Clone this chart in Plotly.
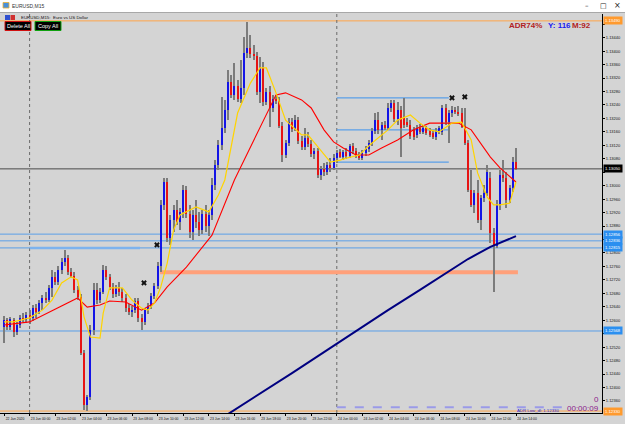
import plotly.graph_objects as go

# ---------------- data (EURUSD M15) ----------------
bar_index = list(range(161))

opens = [1.12580, 1.12601, 1.12580, 1.12601, 1.12565, 1.12586, 1.12607, 1.12601, 1.12615, 1.12607,
         1.12636, 1.12624, 1.12651, 1.12666, 1.12660, 1.12696, 1.12729, 1.12714, 1.12749, 1.12773,
         1.12785, 1.12743, 1.12731, 1.12690, 1.12669, 1.12502, 1.12348, 1.12372, 1.12571, 1.12690,
         1.12660, 1.12684, 1.12749, 1.12729, 1.12699, 1.12678, 1.12696, 1.12684, 1.12666, 1.12636,
         1.12624, 1.12630, 1.12657, 1.12607, 1.12595, 1.12630, 1.12642, 1.12672, 1.12702, 1.12761,
         1.12943, 1.13011, 1.12844, 1.12898, 1.12928, 1.12892, 1.12922, 1.12987, 1.12916, 1.12862,
         1.12913, 1.12892, 1.12868, 1.12916, 1.12880, 1.12913, 1.13002, 1.13061, 1.13121, 1.13171,
         1.13225, 1.13308, 1.13270, 1.13296, 1.13258, 1.13290, 1.13394, 1.13409, 1.13391, 1.13386,
         1.13279, 1.13350, 1.13249, 1.13279, 1.13231, 1.13258, 1.13252, 1.13177, 1.13091, 1.13127,
         1.13189, 1.13169, 1.13195, 1.13133, 1.13115, 1.13142, 1.13124, 1.13094, 1.13103, 1.13032,
         1.13050, 1.13041, 1.13061, 1.13053, 1.13082, 1.13100, 1.13085, 1.13100, 1.13088, 1.13118,
         1.13103, 1.13088, 1.13082, 1.13097, 1.13109, 1.13127, 1.13163, 1.13195, 1.13166, 1.13180,
         1.13171, 1.13231, 1.13246, 1.13198, 1.13225, 1.13201, 1.13189, 1.13180, 1.13166, 1.13151,
         1.13171, 1.13160, 1.13171, 1.13163, 1.13157, 1.13145, 1.13163, 1.13160, 1.13231, 1.13189,
         1.13216, 1.13225, 1.13219, 1.13216, 1.13174, 1.13127, 1.12987, 1.12943, 1.12978, 1.12898,
         1.12963, 1.12978, 1.13023, 1.12859, 1.12821, 1.12943, 1.13032, 1.13023, 1.12957, 1.12993, 1.13070]

highs = [1.12613, 1.12607, 1.12610, 1.12607, 1.12595, 1.12615, 1.12621, 1.12624, 1.12630, 1.12645,
         1.12648, 1.12660, 1.12675, 1.12684, 1.12705, 1.12749, 1.12743, 1.12761, 1.12785, 1.12809,
         1.12794, 1.12755, 1.12743, 1.12702, 1.12678, 1.12511, 1.12378, 1.12586, 1.12711, 1.12711,
         1.12696, 1.12764, 1.12761, 1.12737, 1.12711, 1.12705, 1.12714, 1.12696, 1.12678, 1.12648,
         1.12642, 1.12666, 1.12666, 1.12619, 1.12636, 1.12651, 1.12681, 1.12711, 1.12773, 1.12957,
         1.13023, 1.13023, 1.12913, 1.12943, 1.12957, 1.12934, 1.13002, 1.12999, 1.12943, 1.12928,
         1.12957, 1.12922, 1.12928, 1.12943, 1.12928, 1.13023, 1.13076, 1.13136, 1.13264, 1.13255,
         1.13344, 1.13329, 1.13365, 1.13314, 1.13374, 1.13442, 1.13487, 1.13448, 1.13418, 1.13397,
         1.13383, 1.13368, 1.13290, 1.13296, 1.13270, 1.13270, 1.13264, 1.13189, 1.13136, 1.13201,
         1.13201, 1.13210, 1.13204, 1.13148, 1.13171, 1.13160, 1.13136, 1.13112, 1.13112, 1.13058,
         1.13067, 1.13070, 1.13082, 1.13094, 1.13106, 1.13109, 1.13106, 1.13112, 1.13124, 1.13127,
         1.13112, 1.13100, 1.13106, 1.13118, 1.13136, 1.13171, 1.13216, 1.13219, 1.13189, 1.13192,
         1.13246, 1.13255, 1.13255, 1.13249, 1.13237, 1.13261, 1.13201, 1.13195, 1.13174, 1.13180,
         1.13183, 1.13180, 1.13177, 1.13171, 1.13166, 1.13171, 1.13177, 1.13240, 1.13243, 1.13225,
         1.13237, 1.13234, 1.13237, 1.13231, 1.13231, 1.13136, 1.13047, 1.12987, 1.13017, 1.12972,
         1.13002, 1.13061, 1.13041, 1.12874, 1.12957, 1.13047, 1.13076, 1.13041, 1.13002, 1.13085, 1.13112]

lows = [1.12532, 1.12571, 1.12571, 1.12550, 1.12556, 1.12577, 1.12595, 1.12592, 1.12589, 1.12598,
        1.12607, 1.12619, 1.12630, 1.12651, 1.12654, 1.12669, 1.12705, 1.12705, 1.12737, 1.12761,
        1.12734, 1.12726, 1.12681, 1.12660, 1.12497, 1.12333, 1.12330, 1.12363, 1.12556, 1.12648,
        1.12651, 1.12678, 1.12720, 1.12690, 1.12666, 1.12669, 1.12672, 1.12654, 1.12624, 1.12615,
        1.12610, 1.12621, 1.12595, 1.12571, 1.12586, 1.12619, 1.12633, 1.12663, 1.12693, 1.12743,
        1.12928, 1.12833, 1.12824, 1.12862, 1.12883, 1.12868, 1.12904, 1.12904, 1.12844, 1.12839,
        1.12874, 1.12850, 1.12856, 1.12862, 1.12850, 1.12898, 1.12987, 1.13047, 1.13106, 1.13157,
        1.13195, 1.13261, 1.13255, 1.13249, 1.13246, 1.13270, 1.13380, 1.13380, 1.13374, 1.13270,
        1.13246, 1.13237, 1.13240, 1.13174, 1.13219, 1.13243, 1.13171, 1.13070, 1.13082, 1.13118,
        1.13160, 1.13163, 1.13124, 1.13106, 1.13106, 1.13115, 1.13085, 1.13079, 1.13023, 1.13017,
        1.13029, 1.13032, 1.13041, 1.13047, 1.13067, 1.13082, 1.13076, 1.13079, 1.13082, 1.13094,
        1.13082, 1.13076, 1.13076, 1.13088, 1.13100, 1.13118, 1.13154, 1.13154, 1.13136, 1.13166,
        1.13166, 1.13219, 1.13189, 1.13180, 1.13085, 1.13171, 1.13174, 1.13139, 1.13136, 1.13142,
        1.13154, 1.13154, 1.13151, 1.13145, 1.13139, 1.13136, 1.13154, 1.13151, 1.13180, 1.13127,
        1.13204, 1.13213, 1.13207, 1.13171, 1.13121, 1.12981, 1.12937, 1.12919, 1.12889, 1.12868,
        1.12951, 1.12969, 1.12830, 1.12684, 1.12815, 1.12928, 1.13011, 1.12934, 1.12948, 1.12981, 1.13047]

closes = [1.12601, 1.12580, 1.12604, 1.12565, 1.12586, 1.12607, 1.12601, 1.12615, 1.12607, 1.12636,
          1.12624, 1.12651, 1.12666, 1.12660, 1.12696, 1.12729, 1.12714, 1.12749, 1.12773, 1.12785,
          1.12743, 1.12731, 1.12690, 1.12669, 1.12502, 1.12348, 1.12372, 1.12571, 1.12690, 1.12660,
          1.12684, 1.12749, 1.12729, 1.12699, 1.12678, 1.12696, 1.12684, 1.12666, 1.12636, 1.12624,
          1.12630, 1.12657, 1.12607, 1.12595, 1.12630, 1.12642, 1.12672, 1.12702, 1.12761, 1.12943,
          1.13011, 1.12844, 1.12898, 1.12928, 1.12892, 1.12922, 1.12987, 1.12916, 1.12862, 1.12913,
          1.12892, 1.12868, 1.12916, 1.12880, 1.12913, 1.13002, 1.13061, 1.13121, 1.13171, 1.13225,
          1.13308, 1.13270, 1.13296, 1.13258, 1.13290, 1.13394, 1.13409, 1.13391, 1.13386, 1.13279,
          1.13350, 1.13249, 1.13279, 1.13231, 1.13258, 1.13252, 1.13177, 1.13091, 1.13127, 1.13189,
          1.13169, 1.13195, 1.13133, 1.13115, 1.13142, 1.13124, 1.13094, 1.13103, 1.13032, 1.13050,
          1.13041, 1.13061, 1.13053, 1.13082, 1.13097, 1.13085, 1.13100, 1.13088, 1.13118, 1.13103,
          1.13088, 1.13082, 1.13097, 1.13109, 1.13127, 1.13163, 1.13195, 1.13166, 1.13180, 1.13171,
          1.13231, 1.13246, 1.13198, 1.13225, 1.13171, 1.13180, 1.13180, 1.13148, 1.13145, 1.13171,
          1.13160, 1.13171, 1.13157, 1.13151, 1.13145, 1.13163, 1.13171, 1.13231, 1.13189, 1.13216,
          1.13225, 1.13219, 1.13216, 1.13174, 1.13127, 1.12987, 1.12943, 1.12978, 1.12898, 1.12963,
          1.12978, 1.13041, 1.12859, 1.12821, 1.12943, 1.13032, 1.13023, 1.12957, 1.12993, 1.13070, 1.13050]

# moving averages (bar index, price)
fast_ma_index = [0, 3, 8, 12, 15, 18, 21, 23, 24, 25, 27, 30, 31, 33, 37, 40, 43, 45, 47, 49, 51, 53,
                 55, 60, 64, 67, 69, 73, 77, 80, 82, 85, 88, 93, 95, 98, 102, 105, 107, 111, 115, 120,
                 123, 127, 130, 133, 136, 140, 143, 146, 148, 151, 153, 155, 158, 160]
fast_ma_value = [1.12595, 1.12595, 1.12607, 1.12630, 1.12660, 1.12711, 1.12729, 1.12720, 1.12669, 1.12610,
                 1.12550, 1.12547, 1.12621, 1.12696, 1.12696, 1.12660, 1.12636, 1.12630, 1.12651, 1.12699,
                 1.12770, 1.12868, 1.12913, 1.12937, 1.12922, 1.12972, 1.13017, 1.13216, 1.13305, 1.13350,
                 1.13350, 1.13276, 1.13195, 1.13151, 1.13151, 1.13115, 1.13070, 1.13076, 1.13082, 1.13091,
                 1.13127, 1.13166, 1.13195, 1.13210, 1.13186, 1.13166, 1.13160, 1.13186, 1.13189, 1.13136,
                 1.13038, 1.12966, 1.12943, 1.12943, 1.12948, 1.13011]

slow_ma_index = [0, 8, 23, 26, 30, 33, 38, 43, 47, 51, 57, 65, 72, 77, 82, 85, 88, 93, 96, 100, 103,
                 106, 110, 114, 118, 123, 128, 133, 138, 142, 146, 149, 152, 155, 158, 160]
slow_ma_value = [1.12586, 1.12595, 1.12666, 1.12639, 1.12645, 1.12657, 1.12654, 1.12630, 1.12651, 1.12699,
                 1.12758, 1.12853, 1.13017, 1.13115, 1.13216, 1.13270, 1.13276, 1.13255, 1.13231, 1.13166,
                 1.13130, 1.13112, 1.13091, 1.13091, 1.13112, 1.13136, 1.13166, 1.13186, 1.13186, 1.13186,
                 1.13166, 1.13127, 1.13085, 1.13053, 1.13026, 1.13011]

long_ma_index = [70, 80, 90, 100, 110, 120, 130, 138, 145, 152, 160]
long_ma_value = [1.12321, 1.12381, 1.12443, 1.12505, 1.12568, 1.12630, 1.12690, 1.12740, 1.12782, 1.12818, 1.12850]

time_tick_index = [0, 8, 16, 24, 32, 40, 48, 56, 64, 72, 80, 88, 96, 104, 112, 120, 128, 136, 144, 152, 160]
time_tick_text = ["22 Jun 2020", "23 Jun 00:00", "23 Jun 02:00", "23 Jun 04:00", "23 Jun 06:00",
                  "23 Jun 08:00", "23 Jun 10:00", "23 Jun 12:00", "23 Jun 14:00", "23 Jun 16:00",
                  "23 Jun 18:00", "23 Jun 20:00", "23 Jun 22:00", "24 Jun 00:00", "24 Jun 02:00",
                  "24 Jun 04:00", "24 Jun 06:00", "24 Jun 08:00", "24 Jun 10:00", "24 Jun 12:00",
                  "24 Jun 14:00"]
price_ticks = [1.1236, 1.1240, 1.1244, 1.1248, 1.1252, 1.1256, 1.1260, 1.1264, 1.1268, 1.1272,
               1.1276, 1.1280, 1.1284, 1.1288, 1.1292, 1.1296, 1.1300, 1.1304, 1.1308, 1.1312,
               1.1316, 1.1320, 1.1324, 1.1328, 1.1332, 1.1336, 1.1340, 1.1344, 1.1348]

adr_high = 1.13490
adr_low = 1.12330
bid_price = 1.13050
full_levels = [1.12856, 1.12836, 1.12815, 1.12568]
thick_level = 1.12815
thick_level_span = [8, 42.5]
zone_levels = [1.13261, 1.13166, 1.13070]
zone_span = [104, 139]
salmon_level = 1.12743
salmon_span = [48.75, 160.6]
timer_level = 1.12341
timer_span = [104, 176]
day_separators = [8, 104]
marker_index = [43.75, 47.8, 140, 144]
marker_price = [1.12711, 1.12824, 1.13261, 1.13264]

# ---------------- geometry helpers (pixels -> paper) ----------------
W, H = 625, 424
PL, PR, PT, PB = 0, 602, 14, 413


def px(x):
    return (x - PL) / (PR - PL)


def py(y):
    return (PB - y) / (PB - PT)


BG = '#d4d4d4'
FONT = 'Liberation Sans'

fig = go.Figure()

# candles: wicks then bodies
wick_len = [h - l for h, l in zip(highs, lows)]
body_base = [min(o, c) for o, c in zip(opens, closes)]
body_len = [max(abs(c - o), 0.000025) for o, c in zip(opens, closes)]
body_col = ['#1414e6' if c >= o else '#e61414' for o, c in zip(opens, closes)]

fig.add_trace(go.Bar(x=bar_index, y=wick_len, base=lows, width=0.32,
                     marker=dict(color='#7c7c7c', line=dict(width=0)), hoverinfo='skip'))
fig.add_trace(go.Bar(x=bar_index, y=body_len, base=body_base, width=0.66,
                     marker=dict(color=body_col, line=dict(width=0)), hoverinfo='skip'))

fig.add_trace(go.Scatter(x=long_ma_index, y=long_ma_value, mode='lines',
                         line=dict(color='#000080', width=2), hoverinfo='skip'))
fig.add_trace(go.Scatter(x=slow_ma_index, y=slow_ma_value, mode='lines',
                         line=dict(color='#ff0000', width=1.1), hoverinfo='skip'))
fig.add_trace(go.Scatter(x=fast_ma_index, y=fast_ma_value, mode='lines',
                         line=dict(color='#ffd400', width=1.2), hoverinfo='skip'))
fig.add_trace(go.Scatter(x=marker_index, y=marker_price, mode='markers',
                         marker=dict(symbol='x', size=5, color='#111111', line=dict(width=0)),
                         hoverinfo='skip'))

shapes = []
# title bar
shapes.append(dict(type='rect', xref='paper', yref='paper', x0=px(0), x1=px(W), y0=py(12), y1=py(0),
                   fillcolor='white', line=dict(width=0), layer='above'))
shapes.append(dict(type='line', xref='paper', yref='paper', x0=px(0), x1=px(W), y0=py(12.5), y1=py(12.5),
                   line=dict(color='#a8a8a8', width=1), layer='above'))
# ADR high / low
for lv in (adr_high, adr_low):
    shapes.append(dict(type='line', xref='paper', yref='y', x0=0, x1=1, y0=lv, y1=lv,
                       line=dict(color='#ffa54a', width=1), layer='below'))
# full-width blue levels
for lv in full_levels:
    shapes.append(dict(type='line', xref='paper', yref='y', x0=0, x1=1, y0=lv, y1=lv,
                       line=dict(color='#5a9fe8', width=1), layer='below'))
shapes.append(dict(type='line', xref='x', yref='y', x0=thick_level_span[0], x1=thick_level_span[1],
                   y0=thick_level, y1=thick_level, line=dict(color='#7db3ee', width=2.5), layer='below'))
for lv in zone_levels:
    shapes.append(dict(type='line', xref='x', yref='y', x0=zone_span[0], x1=zone_span[1], y0=lv, y1=lv,
                       line=dict(color='#5a9fe8', width=1.2), layer='below'))
shapes.append(dict(type='line', xref='x', yref='y', x0=salmon_span[0], x1=salmon_span[1],
                   y0=salmon_level, y1=salmon_level, line=dict(color='#ffa07a', width=4), layer='below'))
shapes.append(dict(type='line', xref='x', yref='y', x0=timer_span[0], x1=timer_span[1],
                   y0=timer_level, y1=timer_level, line=dict(color='#9a9ae8', width=2, dash='dash'),
                   layer='below'))
for d in day_separators:
    shapes.append(dict(type='line', xref='x', yref='paper', x0=d, x1=d, y0=0, y1=1,
                       line=dict(color='#6a6a6a', width=1, dash='dot'), layer='below'))
shapes.append(dict(type='line', xref='paper', yref='y', x0=0, x1=1, y0=bid_price, y1=bid_price,
                   line=dict(color='#4a4a4a', width=1), layer='below'))
# buttons
shapes.append(dict(type='rect', xref='paper', yref='paper', x0=px(5), x1=px(31), y0=py(30.5), y1=py(21.5),
                   fillcolor='black', line=dict(color='#d01010', width=1), layer='above'))
shapes.append(dict(type='rect', xref='paper', yref='paper', x0=px(35), x1=px(61), y0=py(30.5), y1=py(21.5),
                   fillcolor='black', line=dict(color='#10a010', width=1), layer='above'))
# chart header icon & window icon
shapes.append(dict(type='rect', xref='paper', yref='paper', x0=px(5), x1=px(10), y0=py(20), y1=py(15),
                   fillcolor='#3050d0', line=dict(width=0), layer='above'))
shapes.append(dict(type='rect', xref='paper', yref='paper', x0=px(10.5), x1=px(15), y0=py(20), y1=py(15),
                   fillcolor='#d03030', line=dict(width=0), layer='above'))
shapes.append(dict(type='rect', xref='paper', yref='paper', x0=px(3), x1=px(9), y0=py(8), y1=py(2.5),
                   fillcolor='#4a90d9', line=dict(color='#f0b030', width=0.8), layer='above'))

ann = []


def txt(x, y, s, size, color, anchor='left', family=FONT, bg=None):
    d = dict(xref='paper', yref='paper', x=px(x), y=py(y), text=s, showarrow=False,
             xanchor=anchor, yanchor='middle', font=dict(size=size, color=color, family=family),
             borderpad=0)
    if bg:
        d['bgcolor'] = bg
    ann.append(d)


txt(11, 6, 'EURUSD,M15', 5, '#333333')
txt(587, 5.5, '–', 7, '#222222', 'center', 'DejaVu Sans')
txt(603, 5.5, '□', 7, '#222222', 'center', 'DejaVu Sans')
txt(617, 5.5, '×', 8, '#222222', 'center', 'DejaVu Sans')
txt(20, 17.5, 'EURUSD,M15:  Euro vs US Dollar', 4.4, '#111111')
txt(18, 26, 'Delete All', 5.5, 'white', 'center')
txt(48, 26, 'Copy All', 5.5, 'white', 'center')
txt(543, 25, '<b>ADR74%</b>', 8, '#b22222', 'right')
txt(572, 25, '<b>Y: 116</b>', 8, '#1a1af0', 'right')
txt(592, 25, '<b>M:92</b>', 8, '#b22222', 'right')
txt(600, 399, '0', 8, '#8b1a8b', 'right')
txt(600, 408, '00:00:09', 8, '#8b1a8b', 'right')
txt(516, 410, 'ADR Low_dl: 1.12330', 4.3, '#2a2ad8')

# price labels on the right axis
flagged = [(adr_high, '#ff9a2e'), (adr_low, '#ff9a2e'), (bid_price, '#000000')] + \
          [(lv, '#2b8ff0') for lv in full_levels]
for lv, bg in flagged:
    ann.append(dict(xref='paper', yref='y', x=px(603), y=lv, text=f'{lv:.5f}', showarrow=False,
                    xanchor='left', yanchor='middle', bgcolor=bg, borderpad=1,
                    font=dict(size=4.2, color='white', family=FONT)))

# tick labels hidden where a price flag sits on top of them (as on the terminal)
tick_text = ['' if any(abs(v - lv) < 0.00012 for lv, _ in flagged) else f'{v:.5f}' for v in price_ticks]

fig.update_layout(
    width=W, height=H, margin=dict(l=PL, r=W - PR, t=PT, b=H - PB),
    paper_bgcolor=BG, plot_bgcolor=BG, barmode='overlay', bargap=0,
    showlegend=False, hovermode=False, shapes=shapes, annotations=ann,
    xaxis=dict(range=[-1.25, 186.875], tickvals=time_tick_index, ticktext=time_tick_text,
               ticks='outside', ticklen=2, tickcolor='#000', tickfont=dict(size=3.4, color='#111', family=FONT),
               showline=True, linecolor='#000', linewidth=1, showgrid=False, zeroline=False,
               ticklabelshift=11, ticklabelstandoff=0),
    yaxis=dict(range=[1.123242, 1.135104], side='right', tickvals=price_ticks,
               ticktext=tick_text, ticks='outside', ticklen=2, tickcolor='#000',
               tickfont=dict(size=4, color='#111', family=FONT), showline=True, linecolor='#000',
               linewidth=1, showgrid=False, zeroline=False),
)

fig.write_html('out.html', config={'displayModeBar': False})
